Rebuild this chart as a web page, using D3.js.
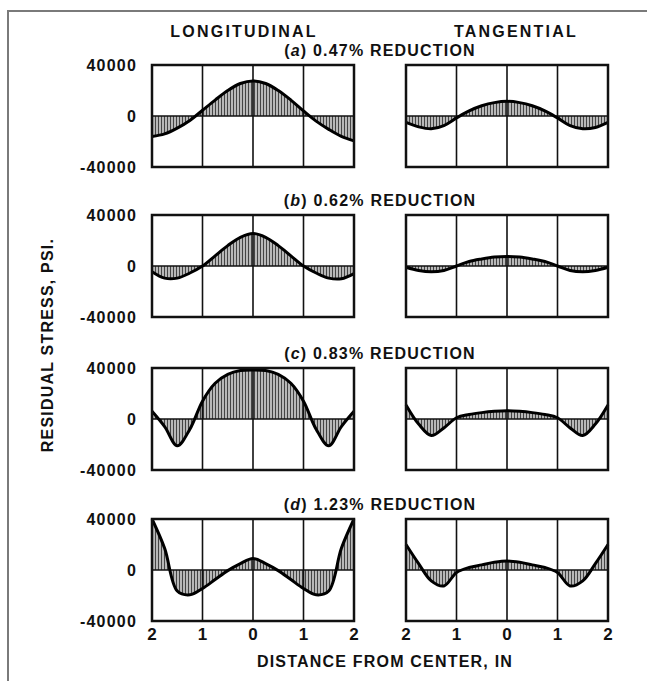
<!DOCTYPE html>
<head>
<meta charset="utf-8">
<title>Residual stress</title>
<style>
body { margin: 0; background: #fff; }
text {
  font-family: "Liberation Sans", Arial, sans-serif;
  font-weight: bold;
  font-size: 16px;
  letter-spacing: 1.2px;
  fill: #111;
}
.coltitle { letter-spacing: 2.2px; }
.frame { fill: none; stroke: #111; stroke-width: 2.5px; }
.grid { stroke: #111; stroke-width: 1.6px; }
.curve { fill: none; stroke: #000; stroke-width: 3px; }
</style>
</head>
<body>
<script src="https://cdn.jsdelivr.net/npm/d3@7"></script>
<script>
// distance from center, inches
var xs = [-2, -1.75, -1.5, -1.25, -1, -0.75, -0.5, -0.25, 0, 0.25, 0.5, 0.75, 1, 1.25, 1.5, 1.75, 2];

// residual stress, psi
var longA = [-16000, -14000, -9500, -3500, 4500, 12500, 20000, 25500, 27500, 25500, 20000, 12500, 4000, -4000, -10500, -16000, -19500];
var tangA = [-5000, -8500, -10000, -7500, -1500, 4000, 8000, 10500, 11500, 10500, 8000, 4000, -1500, -7500, -10000, -9000, -5000];
var longB = [-4500, -9500, -9500, -5500, 0, 8000, 16000, 22500, 25500, 22500, 16000, 8000, 0, -5500, -9500, -10000, -6000];
var tangB = [-1000, -3500, -4500, -3500, 0, 3500, 5500, 7000, 7500, 7000, 5500, 3500, 0, -3500, -4500, -3500, -1000];
var longC = [6000, -6000, -21000, -8000, 14000, 28000, 35000, 38000, 38500, 38000, 35000, 28000, 14000, -8000, -21000, -6000, 6000];
var tangC = [11000, -4000, -13000, -7000, 1000, 3500, 5000, 6000, 6500, 6000, 5000, 3500, 1000, -7000, -13000, -4000, 11000];
var longD = [40000, 17000, -16500, -19500, -14500, -7500, -500, 5000, 9000, 5000, -500, -7500, -14500, -19500, -16500, 17000, 40000];
var tangD = [20000, 5000, -8500, -12500, -2000, 2000, 4000, 6000, 7000, 6000, 4000, 2000, -2000, -12500, -8500, 5000, 20000];

var rowTitles = ["a", "b", "c", "d"];
var rowReductions = ["0.47% REDUCTION", "0.62% REDUCTION", "0.83% REDUCTION", "1.23% REDUCTION"];
var colTitles = ["LONGITUDINAL", "TANGENTIAL"];
var yTicks = [-40000, 0, 40000];
var xTicks = [-2, -1, 0, 1, 2];

var rows = [[longA, tangA], [longB, tangB], [longC, tangC], [longD, tangD]];

var width = 647, height = 681;
var colX = [152, 406], rowY = [65, 215, 368, 519];
var pw = 202, ph = 102;

var svg = d3.select("body").append("svg")
    .attr("width", width)
    .attr("height", height);

// hatching used under the curves
var pat = svg.append("defs").append("pattern")
    .attr("id", "hatch")
    .attr("patternUnits", "userSpaceOnUse")
    .attr("width", 3)
    .attr("height", 6);
pat.append("rect").attr("width", 3).attr("height", 6).attr("fill", "#b8b8b8");
pat.append("line").attr("x1", 0.5).attr("x2", 0.5).attr("y1", 0).attr("y2", 6)
    .attr("stroke", "#444").attr("stroke-width", 1);

// scan border
svg.append("rect")
    .attr("x", 8).attr("y", 11)
    .attr("width", 700).attr("height", 700)
    .attr("fill", "none")
    .attr("stroke", "#7a7a7a")
    .attr("stroke-width", 2);

var x = d3.scaleLinear().domain([-2, 2]).range([0, pw]);
var y = d3.scaleLinear().domain([-40000, 40000]).range([ph, 0]);

var area = d3.area()
    .x(function(d, i) { return x(xs[i]); })
    .y0(y(0))
    .y1(function(d) { return y(d); })
    .curve(d3.curveCatmullRom);

var line = d3.line()
    .x(function(d, i) { return x(xs[i]); })
    .y(function(d) { return y(d); })
    .curve(d3.curveCatmullRom);

rows.forEach(function(pair, r) {
  pair.forEach(function(vals, c) {
    var g = svg.append("g")
        .attr("transform", "translate(" + colX[c] + "," + rowY[r] + ")");

    g.append("path").datum(vals)
        .attr("d", area)
        .attr("fill", "url(#hatch)");

    g.selectAll(".vgrid")
        .data([-1, 0, 1])
        .enter().append("line")
        .attr("class", "grid")
        .attr("x1", x).attr("x2", x)
        .attr("y1", 0).attr("y2", ph);

    g.append("line")
        .attr("class", "grid")
        .attr("x1", 0).attr("x2", pw)
        .attr("y1", y(0)).attr("y2", y(0));

    g.append("path").datum(vals)
        .attr("class", "curve")
        .attr("d", line);

    g.append("rect")
        .attr("class", "frame")
        .attr("width", pw).attr("height", ph);

    if (c === 0) {
      var ya = g.append("g")
          .call(d3.axisLeft(y).tickValues(yTicks).tickSize(0).tickPadding(15)
              .tickFormat(function(d) { return d; }));
      ya.select(".domain").remove();
      ya.selectAll("text").attr("font-size", null).attr("font-family", null);
    }

    if (r === rows.length - 1) {
      var xa = g.append("g")
          .attr("transform", "translate(0," + ph + ")")
          .call(d3.axisBottom(x).tickValues(xTicks).tickSize(0).tickPadding(7)
              .tickFormat(function(d) { return Math.abs(d); }));
      xa.select(".domain").remove();
      xa.selectAll("text").attr("font-size", null).attr("font-family", null)
          .style("font-size", "17px");
    }
  });

  var t = svg.append("text")
      .attr("x", (colX[0] + pw + colX[1]) / 2)
      .attr("y", rowY[r] - 9)
      .attr("text-anchor", "middle");
  t.append("tspan").text("(");
  t.append("tspan").style("font-style", "italic").text(rowTitles[r]);
  t.append("tspan").text(") " + rowReductions[r]);
});

svg.selectAll(".coltitle")
    .data(colTitles)
    .enter().append("text")
    .attr("class", "coltitle")
    .attr("x", function(d, i) { return colX[i] + pw / 2 + (i === 0 ? -9 : 9); })
    .attr("y", 37)
    .attr("text-anchor", "middle")
    .text(function(d) { return d; });

svg.append("text")
    .attr("transform", "translate(53,345) rotate(-90)")
    .attr("text-anchor", "middle")
    .text("RESIDUAL STRESS, PSI.");

svg.append("text")
    .attr("x", 385)
    .attr("y", 667)
    .attr("text-anchor", "middle")
    .text("DISTANCE FROM CENTER, IN");
</script>
</body>
